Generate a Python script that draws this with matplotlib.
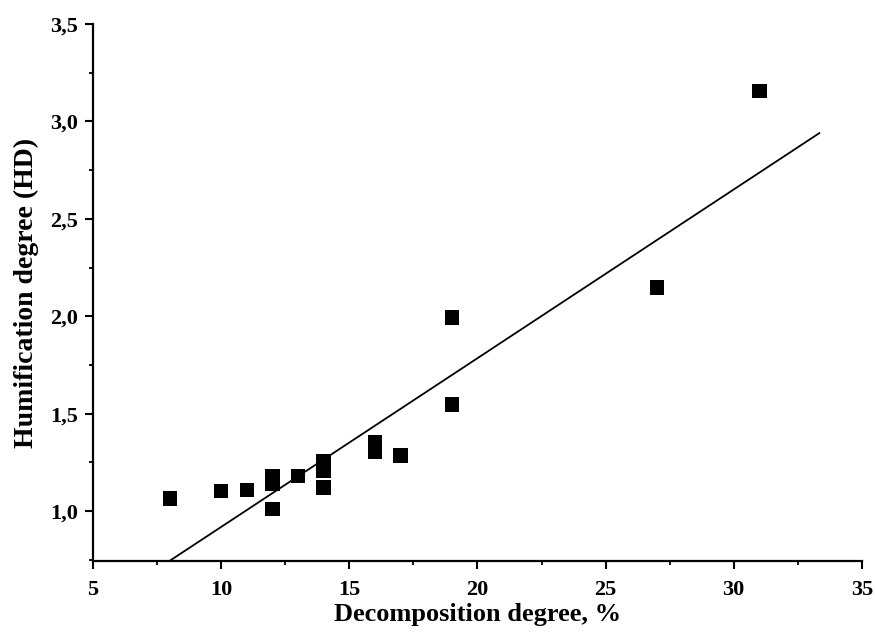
import numpy as np
import matplotlib
matplotlib.use("Agg")
import matplotlib.pyplot as plt
from matplotlib.ticker import MultipleLocator, FuncFormatter

# Data
decomposition = [8, 10, 11, 12, 12, 12, 13, 14, 14, 14, 16, 16, 17, 19, 19, 27, 31]
humification = [1.065, 1.103, 1.108, 1.178, 1.142, 1.011, 1.18, 1.255, 1.206, 1.12,
                1.353, 1.304, 1.285, 1.995, 1.548, 2.148, 3.156]

# linear fit line as drawn in the figure (slope, intercept, x range)
fit_slope = 0.0866
fit_intercept = 0.053
fit_range = [7.98, 33.34]

plt.rcParams['font.family'] = ['Liberation Serif', 'DejaVu Serif']
plt.rcParams['font.weight'] = 'bold'

fig = plt.figure(figsize=(8.75, 6.33), dpi=100)
ax = fig.add_axes([0.1063, 0.1137, 0.985 - 0.1063, 0.962 - 0.1137])

ax.scatter(decomposition, humification, marker='s', s=110, color='black',
           edgecolors='none', zorder=3)

xf = np.array(fit_range)
ax.plot(xf, fit_slope * xf + fit_intercept, color='black', lw=1.3)

ax.set_xlim(5, 35)
ax.set_ylim(0.744, 3.5)
ax.xaxis.set_major_locator(MultipleLocator(5))
ax.xaxis.set_minor_locator(MultipleLocator(2.5))
ax.yaxis.set_major_locator(MultipleLocator(0.5))
ax.yaxis.set_minor_locator(MultipleLocator(0.25))
ax.yaxis.set_major_formatter(FuncFormatter(lambda v, p: f"{v:.1f}".replace('.', ',')))

for side in ['top', 'right']:
    ax.spines[side].set_visible(False)
for side in ['left', 'bottom']:
    ax.spines[side].set_linewidth(1.6)

ax.tick_params(which='major', direction='out', length=6, width=1.5, labelsize=16)
ax.tick_params(which='minor', direction='out', length=3, width=1.3)
ax.tick_params(axis='x', which='major', pad=8)
ax.tick_params(axis='y', which='major', pad=5)

ax.set_xlabel("Decomposition degree, %", fontsize=19, fontweight='bold', labelpad=2)
ax.set_ylabel("Humification degree (HD)", fontsize=20, fontweight='bold', labelpad=8)

fig.savefig("out.png", dpi=100)
